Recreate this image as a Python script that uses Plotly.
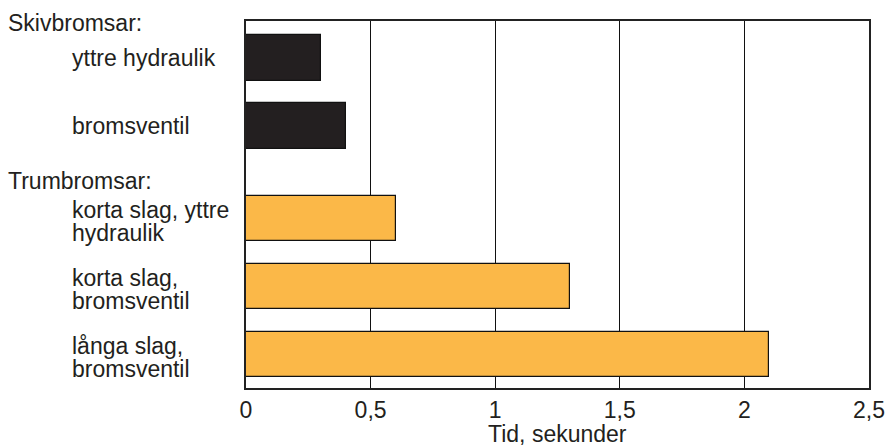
import plotly.graph_objects as go

# ---- data ----
groups = ["Skivbromsar:", "Trumbromsar:"]
labels = [
    ["yttre hydraulik"],
    ["bromsventil"],
    ["korta slag, yttre", "hydraulik"],
    ["korta slag,", "bromsventil"],
    ["långa slag,", "bromsventil"],
]
group_of = [0, 0, 1, 1, 1]
values = [0.3, 0.4, 0.6, 1.3, 2.1]
x_ticks = [0, 0.5, 1, 1.5, 2, 2.5]
x_ticklabels = ["0", "0,5", "1", "1,5", "2", "2,5"]
x_title = "Tid, sekunder"

group_colors = ["#231f20", "#fbb848"]

# ---- layout helpers (slot positions, group gap) ----
GROUP_GAP = 1.36
pos = []
cur = 0.0
for i, g in enumerate(group_of):
    if i > 0:
        cur += GROUP_GAP if g != group_of[i - 1] else 1.0
    pos.append(cur)
PX = 68.0  # pixels per slot (for label offsets)

FONT = "Liberation Sans, Arial, Helvetica, sans-serif"
FS = 23
TXT = "#231f20"

W, H = 893, 446
ML, MR, MT, MB = 246, 24, 21, 58
pw = W - ML - MR
ph = H - MT - MB

def px_x(px):
    return (px - ML) / pw

fig = go.Figure()
fig.add_trace(go.Bar(
    y=pos, x=values, orientation="h", width=0.676,
    marker=dict(color=[group_colors[g] for g in group_of],
                line=dict(color="#111111", width=1.2)),
    hoverinfo="x",
))

ann = []
ITEM_X = 70
HEAD_X = 6
for i, lines in enumerate(labels):
    offs = [0.0] if len(lines) == 1 else [-8.5 / PX, 14.5 / PX]
    for ln, o in zip(lines, offs):
        ann.append(dict(x=px_x(ITEM_X), xref="paper", xanchor="left",
                        y=pos[i] + o, yref="y", yanchor="middle",
                        text=ln, showarrow=False,
                        font=dict(family=FONT, size=FS, color=TXT)))

first_idx = [group_of.index(g) for g in range(len(groups))]
header_off = [-35 / PX, -37 / PX]
for g, name in enumerate(groups):
    ann.append(dict(x=px_x(HEAD_X), xref="paper", xanchor="left",
                    y=pos[first_idx[g]] + header_off[g],
                    yref="y", yanchor="middle", text=name, showarrow=False,
                    font=dict(family=FONT, size=FS, color=TXT)))
ann.append(dict(x=0.5, xref="paper", xanchor="center", y=-(434 - (H - MB)) / ph,
                yref="paper", yanchor="middle", text=x_title, showarrow=False,
                font=dict(family=FONT, size=FS, color=TXT)))

y_top = pos[0] - (58 - 21) / PX
y_bot = pos[-1] + (388 - 354.5) / PX

fig.update_layout(
    width=W, height=H,
    margin=dict(l=ML, r=MR, t=MT, b=MB, autoexpand=False),
    paper_bgcolor="white", plot_bgcolor="white",
    showlegend=False,
    annotations=ann,
    font=dict(family=FONT, size=FS, color=TXT),
    xaxis=dict(range=[0, 2.5], tickvals=x_ticks, ticktext=x_ticklabels,
               showgrid=True, gridcolor="#111111", gridwidth=1,
               zeroline=False, showline=True, mirror=True,
               linecolor="#222222", linewidth=2, ticks="",
               tickfont=dict(family=FONT, size=FS, color=TXT)),
    yaxis=dict(range=[y_bot, y_top], showticklabels=False, showgrid=False,
               zeroline=False, showline=True, mirror=True,
               linecolor="#222222", linewidth=2, ticks=""),
    bargap=0,
)

fig.write_html("out.html", config={"displayModeBar": False},
               post_script="document.body.style.margin='0';document.body.style.overflow='hidden';")
